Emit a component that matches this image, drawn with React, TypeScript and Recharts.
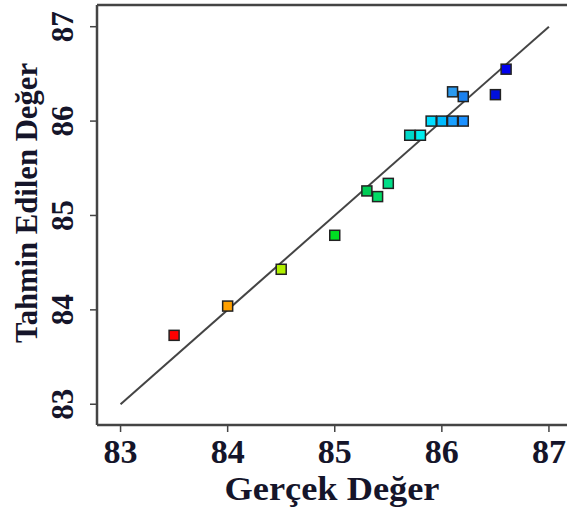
import React from 'react'
import { ScatterChart, Scatter, XAxis, YAxis, ReferenceLine, Label } from 'recharts'

const actual = [83.5, 84.0, 84.5, 85.0, 85.3, 85.4, 85.5, 85.7, 85.8, 85.9, 86.0, 86.1, 86.2, 86.1, 86.2, 86.5, 86.6]
const predicted = [83.73, 84.04, 84.43, 84.79, 85.26, 85.2, 85.34, 85.85, 85.85, 86.0, 86.0, 86.0, 86.0, 86.31, 86.26, 86.28, 86.55]
const colors = [
  '#ff0000', '#ffa000', '#b0f000', '#00dd22', '#00cc55', '#00dd66', '#00dd88',
  '#00d8c8', '#00eeee', '#00ddff', '#00bbff', '#1aa0ff', '#1a90ff', '#2a9af0',
  '#1a80ee', '#0010dd', '#0000ee'
]
const ticks = [83, 84, 85, 86, 87]
const diagLine = [{ x: 83, y: 83 }, { x: 87, y: 87 }]

const xDomain = [82.78, 87.29]
const yDomain = [82.78, 87.23]

const FONT = '"Liberation Serif", "Times New Roman", serif'
const TEXT = '#15152a'
const AXIS = '#444'

const points = actual.map((x, i) => ({ x, y: predicted[i], color: colors[i] }))

const SquareDot = (props: any) => {
  const { cx, cy, payload } = props
  if (cx == null || cy == null) return null
  return <rect x={cx - 5} y={cy - 5} width={10} height={10} fill={payload.color} stroke="#222" strokeWidth={1.5} />
}

const XTick = (props: any) => {
  const { x, y, payload } = props
  return (
    <text x={x} y={y + 29} textAnchor="middle" fontFamily={FONT} fontWeight="bold" fontSize={34} fill={TEXT}>
      {payload.value}
    </text>
  )
}

const YTick = (props: any) => {
  const { x, y, payload } = props
  const tx = x - 25
  return (
    <text x={tx} y={y} transform={`rotate(-90, ${tx}, ${y})`} textAnchor="middle" dominantBaseline="central"
      fontFamily={FONT} fontWeight="bold" fontSize={31} fill={TEXT}>
      {payload.value}
    </text>
  )
}

export default function App() {
  return (
    <div style={{ position: 'absolute', left: 0, top: 0, width: 567, height: 511, overflow: 'hidden', background: '#fff' }}>
      <ScatterChart width={580} height={511} margin={{ top: 5, right: 0, bottom: 0, left: 0 }}>
        <XAxis
          type="number"
          dataKey="x"
          domain={xDomain}
          ticks={ticks}
          allowDataOverflow
          height={86}
          tickSize={7}
          axisLine={{ stroke: AXIS, strokeWidth: 2.5 }}
          tickLine={{ stroke: AXIS, strokeWidth: 1.5 }}
          tick={<XTick />}
        >
          <Label
            content={({ viewBox }: any) => (
              <text x={332} y={viewBox.y + 75} textAnchor="middle" textLength={215} lengthAdjust="spacingAndGlyphs"
                fontFamily={FONT} fontWeight="bold" fontSize={33} fill={TEXT}>
                Gerçek Değer
              </text>
            )}
          />
        </XAxis>
        <YAxis
          type="number"
          dataKey="y"
          domain={yDomain}
          ticks={ticks}
          allowDataOverflow
          width={97}
          tickSize={7}
          axisLine={{ stroke: AXIS, strokeWidth: 2.5 }}
          tickLine={{ stroke: AXIS, strokeWidth: 1.5 }}
          tick={<YTick />}
        >
          <Label
            content={({ viewBox }: any) => {
              const bx = 37
              const cy = 203
              return (
                <text x={bx} y={cy} transform={`rotate(-90, ${bx}, ${cy})`} textAnchor="middle"
                  textLength={280} lengthAdjust="spacingAndGlyphs"
                  fontFamily={FONT} fontWeight="bold" fontSize={31} fill={TEXT}>
                  Tahmin Edilen Değer
                </text>
              )
            }}
          />
        </YAxis>
        <ReferenceLine y={yDomain[1]} stroke={AXIS} strokeWidth={2.5} />
        <ReferenceLine segment={diagLine} stroke="#444" strokeWidth={2} />
        <Scatter data={points} shape={<SquareDot />} isAnimationActive={false} />
      </ScatterChart>
    </div>
  )
}
